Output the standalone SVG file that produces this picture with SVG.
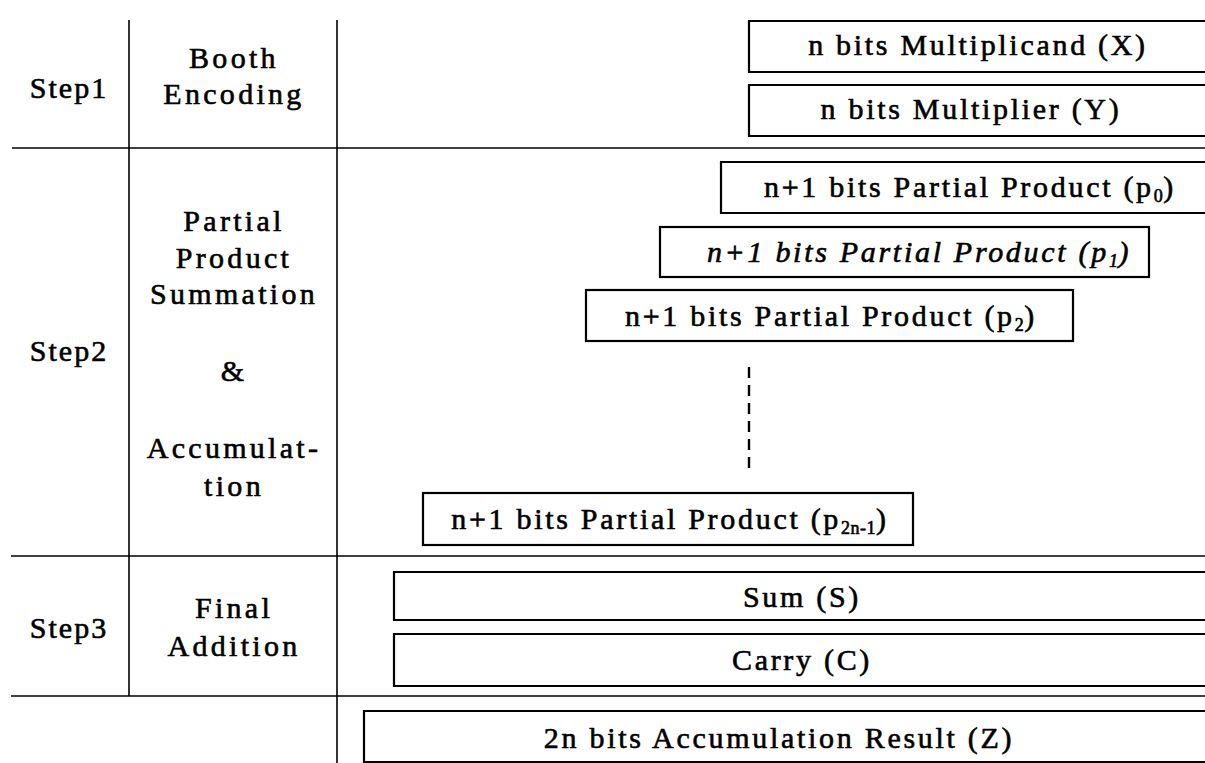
<svg xmlns="http://www.w3.org/2000/svg" width="1205" height="763" viewBox="0 0 1205 763">
<style>
text{font-family:'Liberation Serif','Times New Roman','DejaVu Serif',serif;fill:#000;stroke:#000;stroke-width:0.6;text-anchor:middle}
.t{font-size:30px;letter-spacing:2.7px}
.l{font-size:30px;letter-spacing:3.3px}
.s{font-size:30px;letter-spacing:2px}
.sub{font-size:18px;letter-spacing:0.5px}
.box{fill:#fff;stroke:#000;stroke-width:2.2}
.grid{stroke:#000;stroke-width:1.6;fill:none}
.dash{stroke:#000;stroke-width:2.4;stroke-dasharray:11 7;fill:none}
</style>
<rect width="1205" height="763" fill="#fff"/>
<g id="table">
<line class="grid" x1="129" y1="20" x2="129" y2="696"/>
<line class="grid" x1="337" y1="20" x2="337" y2="763"/>
<line class="grid" x1="12" y1="148" x2="1205" y2="148"/>
<line class="grid" x1="11" y1="556" x2="1205" y2="556"/>
<line class="grid" x1="11" y1="696" x2="1205" y2="696"/>
</g>
<g id="labels">
<text class="s" x="69" y="98">Step1</text>
<text class="l" x="234" y="68">Booth</text>
<text class="l" x="234" y="104">Encoding</text>
<text class="s" x="69" y="361">Step2</text>
<text class="l" x="234" y="231">Partial</text>
<text class="l" x="234" y="268">Product</text>
<text class="l" x="234" y="304">Summation</text>
<text class="l" x="234" y="381">&amp;</text>
<text class="l" x="234" y="458">Accumulat-</text>
<text class="l" x="234" y="496">tion</text>
<text class="s" x="69" y="638">Step3</text>
<text class="l" x="234" y="618">Final</text>
<text class="l" x="234" y="656">Addition</text>
</g>
<g id="connectors">
<line class="dash" x1="749" y1="367" x2="749" y2="470"/>
</g>
<g id="multiplicand">
<path class="box" d="M1210 21 H749 V72 H1210"/>
<text class="t" x="978" y="55">n bits Multiplicand (X)</text>
</g>
<g id="multiplier">
<path class="box" d="M1210 85 H749 V136 H1210"/>
<text class="t" x="971" y="119">n bits Multiplier (Y)</text>
</g>
<g id="p0">
<path class="box" d="M1210 162 H721 V213 H1210"/>
<text class="t" x="970" y="197">n+1 bits Partial Product (p<tspan class="sub" dy="5">0</tspan><tspan dy="-5">)</tspan></text>
</g>
<g id="p1">
<rect class="box" x="660" y="227" width="489" height="50"/>
<text class="t" x="919" y="262" font-style="italic">n+1 bits Partial Product (p<tspan class="sub" dy="5">1</tspan><tspan dy="-5">)</tspan></text>
</g>
<g id="p2">
<rect class="box" x="586" y="290" width="487" height="51"/>
<text class="t" x="831" y="326">n+1 bits Partial Product (p<tspan class="sub" dy="5">2</tspan><tspan dy="-5">)</tspan></text>
</g>
<g id="p2n-1">
<rect class="box" x="423" y="493" width="490" height="52"/>
<text class="t" x="670" y="529">n+1 bits Partial Product (p<tspan class="sub" dy="5">2n-1</tspan><tspan dy="-5">)</tspan></text>
</g>
<g id="sum">
<path class="box" d="M1210 572 H394 V620 H1210"/>
<text class="t" x="802" y="607">Sum (S)</text>
</g>
<g id="carry">
<path class="box" d="M1210 634 H394 V686 H1210"/>
<text class="t" x="802" y="670">Carry (C)</text>
</g>
<g id="result">
<path class="box" d="M1210 711 H364 V762 H1210"/>
<text class="t" x="779" y="748">2n bits Accumulation Result (Z)</text>
</g>
</svg>
